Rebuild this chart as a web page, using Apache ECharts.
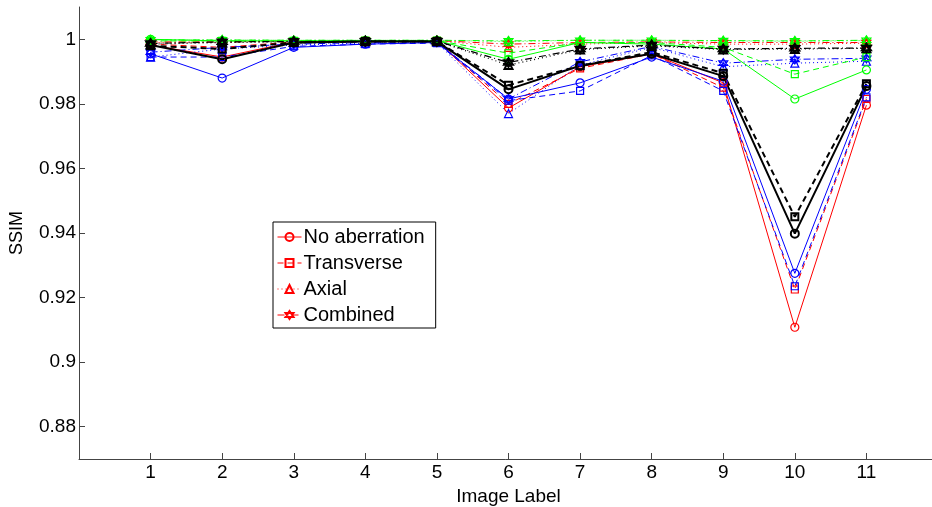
<!DOCTYPE html>
<html>
<head>
<meta charset="utf-8">
<script src="https://cdn.jsdelivr.net/npm/echarts@6/dist/echarts.min.js"></script>
<style>
html,body{margin:0;padding:0;background:#fff;}
#chart{width:932px;height:507px;}
</style>
</head>
<body>
<div id="chart"></div>
<script>
// x categories (image labels)
const imageLabels = [1, 2, 3, 4, 5, 6, 7, 8, 9, 10, 11];
const yTicks = [0.88, 0.9, 0.92, 0.94, 0.96, 0.98, 1];
const legendNames = ['No aberration', 'Transverse', 'Axial', 'Combined'];

// red group
const redNoAberration = [0.9982, 0.9945, 0.9992, 0.9995, 0.9995, 0.9787, 0.9915, 0.9955, 0.9865, 0.9108, 0.9796];
const redTransverse   = [0.9985, 0.9975, 0.9992, 0.9995, 0.9995, 0.9800, 0.9910, 0.9955, 0.9850, 0.9225, 0.9815];
const redAxial        = [0.9990, 0.9990, 0.9995, 0.9996, 0.9996, 0.9975, 0.9985, 0.9990, 0.9985, 0.9985, 0.9988];
const redCombined     = [0.9992, 0.9992, 0.9995, 0.9996, 0.9996, 0.9985, 0.9990, 0.9992, 0.9990, 0.9990, 0.9990];
// blue group
const blueNoAberration = [0.9955, 0.9880, 0.9975, 0.9985, 0.9990, 0.9815, 0.9865, 0.9945, 0.9870, 0.9275, 0.9845];
const blueTransverse   = [0.9945, 0.9945, 0.9978, 0.9985, 0.9988, 0.9810, 0.9840, 0.9950, 0.9840, 0.9235, 0.9820];
const blueAxial        = [0.9945, 0.9970, 0.9982, 0.9988, 0.9990, 0.9770, 0.9920, 0.9975, 0.9915, 0.9926, 0.9932];
const blueCombined     = [0.9960, 0.9975, 0.9985, 0.9990, 0.9992, 0.9815, 0.9930, 0.9978, 0.9926, 0.9938, 0.9941];
// green group
const greenNoAberration = [1.0000, 0.9995, 0.9995, 0.9996, 0.9996, 0.9938, 0.9990, 0.9985, 0.9970, 0.9815, 0.9905];
const greenTransverse   = [0.9995, 0.9995, 0.9995, 0.9996, 0.9996, 0.9957, 0.9990, 0.9990, 0.9975, 0.9892, 0.9945];
const greenAxial        = [0.9998, 0.9998, 0.9997, 0.9997, 0.9997, 0.9993, 0.9997, 0.9997, 0.9995, 0.9994, 0.9996];
const greenCombined     = [0.9998, 0.9998, 0.9997, 0.9997, 0.9997, 0.9995, 0.9997, 0.9997, 0.9996, 0.9995, 0.9997];
// black group
const blackNoAberration = [0.9982, 0.9938, 0.9990, 0.9993, 0.9993, 0.9845, 0.9918, 0.9955, 0.9886, 0.9398, 0.9855];
const blackTransverse   = [0.9980, 0.9970, 0.9990, 0.9993, 0.9993, 0.9858, 0.9918, 0.9960, 0.9895, 0.9450, 0.9862];
const blackAxial        = [0.9985, 0.9990, 0.9992, 0.9994, 0.9994, 0.9920, 0.9968, 0.9980, 0.9968, 0.9970, 0.9972];
const blackCombined     = [0.9987, 0.9992, 0.9993, 0.9994, 0.9994, 0.9928, 0.9970, 0.9982, 0.9970, 0.9972, 0.9973];

const HEX = 'path://M0,-10L8.66,5L-8.66,5Z M0,10L8.66,-5L-8.66,-5Z';
const styles = {
  circle:   { symbol: 'circle',   size: 8 },
  square:   { symbol: 'rect',     size: 7, dash: [6, 4] },
  triangle: { symbol: 'triangle', size: 8, dash: [1, 3] },
  star:     { symbol: HEX,        size: 9, dash: [7, 3, 1, 3] }
};

function mk(name, values, color, styleKey, width) {
  const s = styles[styleKey];
  return {
    name: name,
    type: 'line',
    data: imageLabels.map((x, i) => [x, values[i]]),
    symbol: s.symbol,
    symbolSize: s.size,
    showSymbol: true,
    lineStyle: { color: color, width: width, type: s.dash ? s.dash : 'solid' },
    itemStyle: { color: 'rgba(255,255,255,0)', borderColor: color, borderWidth: width > 1 ? 2 : 1.2 },
    emphasis: { disabled: true },
    animation: false,
    z: 2
  };
}

const series = [
  mk('No aberration', redNoAberration, '#ff0000', 'circle', 1),
  mk('Transverse', redTransverse, '#ff0000', 'square', 1),
  mk('Axial', redAxial, '#ff0000', 'triangle', 1),
  mk('Combined', redCombined, '#ff0000', 'star', 1),
  mk('No aberration b', blueNoAberration, '#0000ff', 'circle', 1),
  mk('Transverse b', blueTransverse, '#0000ff', 'square', 1),
  mk('Axial b', blueAxial, '#0000ff', 'triangle', 1),
  mk('Combined b', blueCombined, '#0000ff', 'star', 1),
  mk('No aberration g', greenNoAberration, '#00ff00', 'circle', 1),
  mk('Transverse g', greenTransverse, '#00ff00', 'square', 1),
  mk('Axial g', greenAxial, '#00ff00', 'triangle', 1),
  mk('Combined g', greenCombined, '#00ff00', 'star', 1),
  mk('No aberration k', blackNoAberration, '#000000', 'circle', 2),
  mk('Transverse k', blackTransverse, '#000000', 'square', 2),
  mk('Axial k', blackAxial, '#000000', 'triangle', 1.2),
  mk('Combined k', blackCombined, '#000000', 'star', 1.2)
];

const font = 'Liberation Sans, Arial, sans-serif';
const chart = echarts.init(document.getElementById('chart'), null, { renderer: 'canvas' });
chart.setOption({
  animation: false,
  backgroundColor: '#ffffff',
  grid: { left: 79, top: 7, width: 859, height: 452, containLabel: false, outerBoundsMode: 'none' },
  legend: {
    data: legendNames,
    orient: 'vertical',
    left: 273,
    top: 222,
    padding: [5, 11, 3, 4],
    itemGap: 6,
    itemWidth: 24,
    itemHeight: 10,
    backgroundColor: '#ffffff',
    borderColor: '#000000',
    borderWidth: 1,
    borderRadius: 0,
    selectedMode: false,
    lineStyle: { width: 1 },
    textStyle: { fontFamily: font, fontSize: 20, color: '#000', padding: [0, 0, 0, -3] }
  },
  xAxis: {
    type: 'value',
    min: 0,
    max: 12,
    interval: 1,
    name: 'Image Label',
    nameLocation: 'middle',
    nameGap: 21,
    nameTextStyle: { fontFamily: font, fontSize: 19, color: '#000' },
    axisLine: { lineStyle: { color: '#444', width: 1 } },
    axisTick: { inside: true, length: 6, lineStyle: { color: '#444' } },
    axisLabel: {
      fontFamily: font, fontSize: 19, color: '#000', margin: 4,
      formatter: v => (v >= 1 && v <= 11) ? String(v) : ''
    },
    splitLine: { show: false }
  },
  yAxis: {
    type: 'value',
    min: 0.87,
    max: 1.01,
    name: 'SSIM',
    nameLocation: 'middle',
    nameGap: 53,
    nameTextStyle: { fontFamily: font, fontSize: 18, color: '#000' },
    axisLine: { show: true, lineStyle: { color: '#444', width: 1 } },
    axisTick: { show: true, inside: true, length: 6, lineStyle: { color: '#444' }, customValues: yTicks },
    axisLabel: {
      fontFamily: font, fontSize: 19, color: '#000', margin: 3,
      customValues: yTicks,
      formatter: v => String(+v.toFixed(2))
    },
    splitLine: { show: false }
  },
  series: series
});
</script>
</body>
</html>
